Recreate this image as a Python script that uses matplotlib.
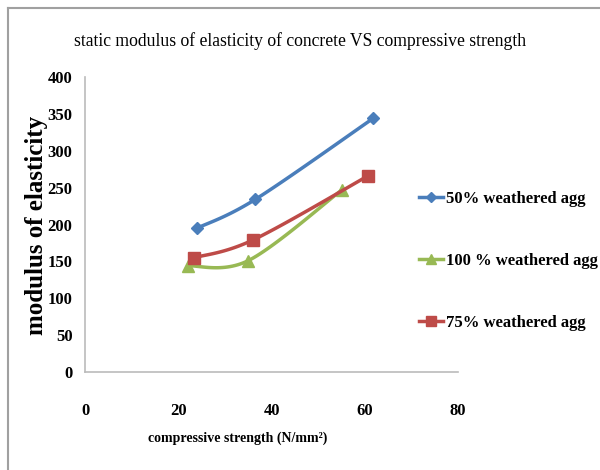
import matplotlib.pyplot as plt
import numpy as np

# compressive strength (N/mm2) and static modulus for each mix
x_50 = [24.0, 36.5, 61.8]
y_50 = [195, 234, 344]
x_100 = [22.1, 35.0, 55.1]
y_100 = [144, 151, 247]
x_75 = [23.4, 36.0, 60.7]
y_75 = [155, 179, 266]

labels = ['50% weathered agg', '100 % weathered agg', '75% weathered agg']
colors = ['#4A7EBB', '#98B954', '#BE4B48']
markers = ['D', '^', 's']


def smooth(xs, ys, n=30):
    # Catmull-Rom curve through the points, like a smoothed line in a spreadsheet chart
    p = np.column_stack([xs, ys]).astype(float)
    p = np.vstack([p[0], p, p[-1]])
    out = []
    for i in range(1, len(p) - 2):
        p0, p1, p2, p3 = p[i - 1], p[i], p[i + 1], p[i + 2]
        t = np.linspace(0, 1, n)[:, None]
        seg = 0.5 * ((2 * p1) + (-p0 + p2) * t + (2 * p0 - 5 * p1 + 4 * p2 - p3) * t ** 2
                     + (-p0 + 3 * p1 - 3 * p2 + p3) * t ** 3)
        out.append(seg)
    c = np.vstack(out)
    return c[:, 0], c[:, 1]


plt.rcParams['font.family'] = 'Liberation Serif'

fig = plt.figure(figsize=(6, 4.7), dpi=100)
ax = fig.add_axes([0.1417, 0.2085, 0.6216, 0.6275])

handles = []
for xs, ys, c, m, lab in zip([x_50, x_100, x_75], [y_50, y_100, y_75], colors, markers, labels):
    sx, sy = smooth(xs, ys)
    ax.plot(sx, sy, color=c, lw=2.5, solid_capstyle='round')
    ms = 6.5 if m == 'D' else 8
    ax.plot(xs, ys, ls='none', marker=m, color=c, ms=ms)
    h, = ax.plot([], [], color=c, lw=2.5, marker=m, ms=ms - 1, label=lab)
    handles.append(h)

ax.set_xlim(0, 80)
ax.set_ylim(0, 400)
ax.set_xticks([0, 20, 40, 60, 80])
ax.set_yticks(range(0, 401, 50))
ax.tick_params(length=0, labelsize=12, pad=9)
for t in ax.get_xticklabels() + ax.get_yticklabels():
    t.set_fontweight('bold')
ax.tick_params(axis='x', pad=22)
for s in ['top', 'right']:
    ax.spines[s].set_visible(False)
for s in ['left', 'bottom']:
    ax.spines[s].set_color('#BBBBBB')
    ax.spines[s].set_linewidth(1.2)

ax.set_xlabel('compressive strength (N/mm²)', fontsize=10, fontweight='bold')
ax.xaxis.set_label_coords(0.408, -0.203)
ax.set_ylabel('modulus of elasticity', fontsize=18, fontweight='bold')
ax.yaxis.set_label_coords(-0.1, 0.498)

fig.text(0.5, 0.913, 'static modulus of elasticity of concrete VS compressive strength',
         ha='center', va='center', fontsize=12.7)

fig.legend(handles=handles, loc='center left', bbox_to_anchor=(0.685, 0.445),
           frameon=False, labelspacing=2.75, handlelength=1.4,
           handletextpad=0.2, borderpad=0, prop={'weight': 'bold', 'size': 12})

# outer chart frame
fig.add_artist(plt.Line2D([0.013, 0.013], [0.0, 0.983], color='#A0A0A0', lw=1.5))
fig.add_artist(plt.Line2D([0.013, 1.0], [0.983, 0.983], color='#A0A0A0', lw=1.5))

fig.savefig('out.png', dpi=100)
